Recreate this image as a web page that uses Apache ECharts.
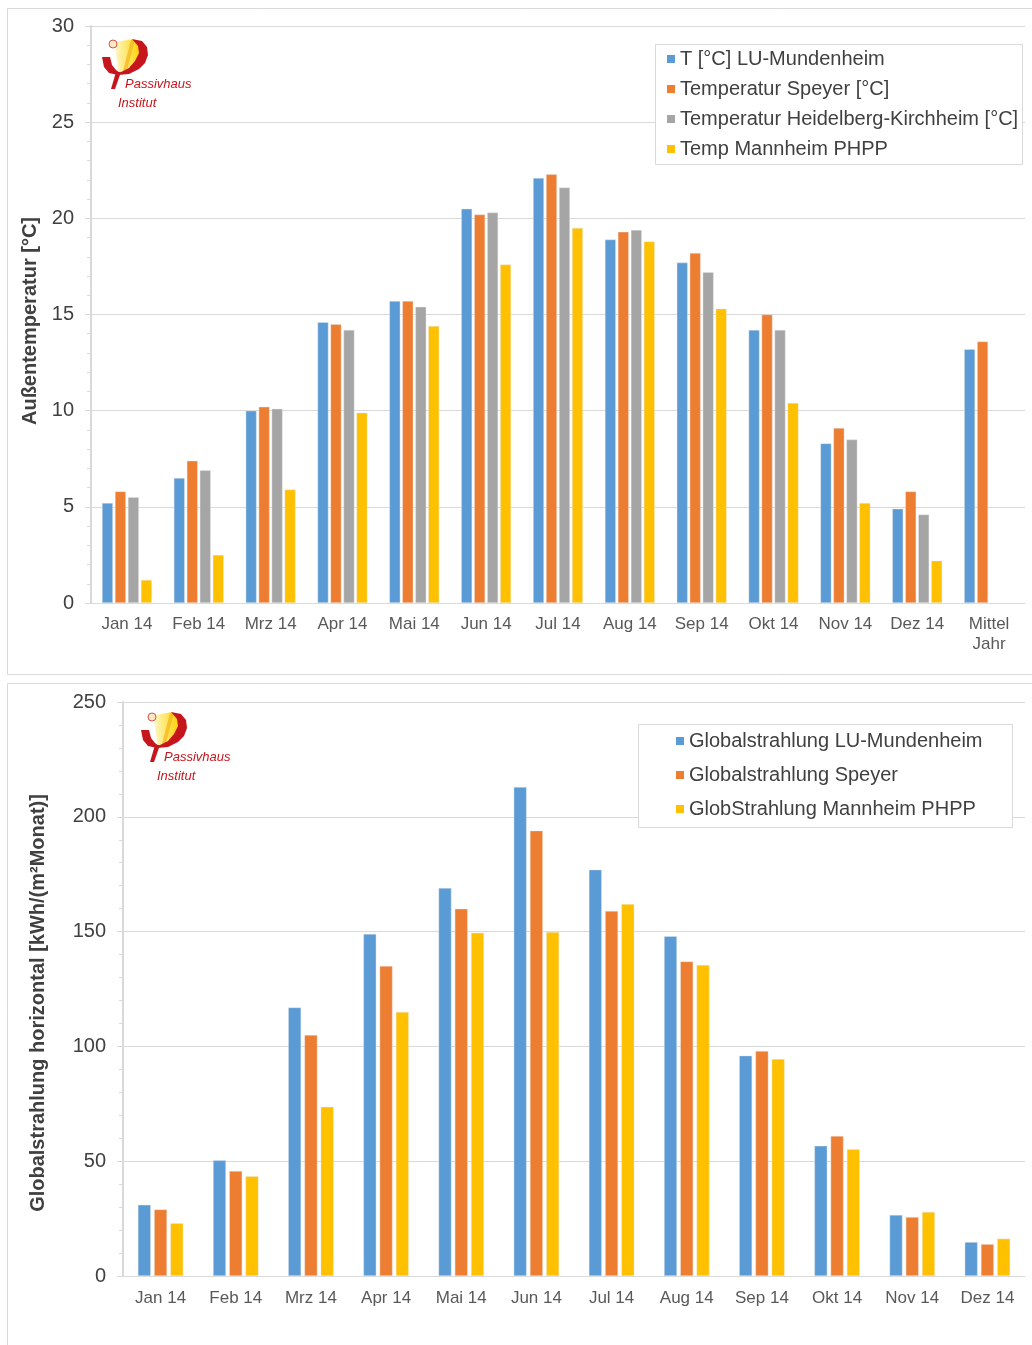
<!DOCTYPE html>
<html>
<head>
<meta charset="utf-8">
<script src="https://cdn.jsdelivr.net/npm/echarts@6/dist/echarts.min.js"></script>
<style>
  html, body { margin: 0; padding: 0; background: #fff; }
  #chart { width: 1032px; height: 1345px; }
</style>
</head>
<body>
<div id="chart"></div>
<script>
// --- data ---
const tempMonths = ['Jan 14', 'Feb 14', 'Mrz 14', 'Apr 14', 'Mai 14', 'Jun 14', 'Jul 14',
  'Aug 14', 'Sep 14', 'Okt 14', 'Nov 14', 'Dez 14', 'Mittel\nJahr'];
const tempLU = [5.2, 6.5, 10.0, 14.6, 15.7, 20.5, 22.1, 18.9, 17.7, 14.2, 8.3, 4.9, 13.2];
const tempSpeyer = [5.8, 7.4, 10.2, 14.5, 15.7, 20.2, 22.3, 19.3, 18.2, 15.0, 9.1, 5.8, 13.6];
const tempHeidelberg = [5.5, 6.9, 10.1, 14.2, 15.4, 20.3, 21.6, 19.4, 17.2, 14.2, 8.5, 4.6, null];
const tempMannheim = [1.2, 2.5, 5.9, 9.9, 14.4, 17.6, 19.5, 18.8, 15.3, 10.4, 5.2, 2.2, null];

const radMonths = ['Jan 14', 'Feb 14', 'Mrz 14', 'Apr 14', 'Mai 14', 'Jun 14', 'Jul 14',
  'Aug 14', 'Sep 14', 'Okt 14', 'Nov 14', 'Dez 14'];
const radLU = [31, 50.4, 117, 149, 169, 213, 177, 148, 96, 56.7, 26.6, 14.8];
const radSpeyer = [29, 45.7, 105, 135, 160, 194, 159, 137, 98, 61, 25.7, 13.9];
const radMannheim = [23, 43.5, 73.7, 115, 149.5, 149.8, 162, 135.5, 94.5, 55.2, 27.9, 16.3];

const tempTicks = { min: 0, max: 30, step: 5 };
const radTicks = { min: 0, max: 250, step: 50 };

const FONT = 'Liberation Sans, Arial, sans-serif';
const GRID_GRAY = '#d9d9d9';
const RED = '#c5161d';

function yAxisOpt(idx, t) {
  return {
    type: 'value',
    gridIndex: idx,
    min: t.min,
    max: t.max,
    interval: t.step,
    axisLine: { show: true, lineStyle: { color: GRID_GRAY, width: 2 } },
    axisTick: { show: true, length: 6, lineStyle: { color: GRID_GRAY } },
    minorTick: { show: true, splitNumber: 5, length: 4, lineStyle: { color: GRID_GRAY } },
    splitLine: { lineStyle: { color: GRID_GRAY } },
    axisLabel: { color: '#404040', fontSize: 20, margin: 17, fontFamily: FONT }
  };
}

function xAxisOpt(idx, cats, margin) {
  return {
    type: 'category',
    gridIndex: idx,
    data: cats,
    axisLine: { lineStyle: { color: GRID_GRAY, width: 1 } },
    axisTick: { show: false },
    axisLabel: { color: '#595959', fontSize: 17, margin: margin, lineHeight: 20, interval: 0, fontFamily: FONT }
  };
}

function bar(name, data, idx, color, w, gap) {
  return {
    name: name,
    type: 'bar',
    xAxisIndex: idx,
    yAxisIndex: idx,
    data: data,
    barWidth: w,
    barGap: gap,
    itemStyle: { color: color, borderColor: 'rgba(230,230,230,0.7)', borderWidth: 0.6 }
  };
}

// Passivhaus Institut logo, local coords relative to the small circle
function logo(x, y) {
  return {
    type: 'group',
    x: x,
    y: y,
    z: 5,
    children: [
      {
        type: 'polygon',
        shape: { points: [[3, -2], [20, -5], [27, 3], [26, 14], [18, 23], [6, 29], [2, 5]] },
        style: {
          fill: {
            type: 'linear', x: 0, y: 0, x2: 1, y2: 0,
            colorStops: [{ offset: 0, color: '#fff8c8' }, { offset: 1, color: '#ffd200' }]
          }
        }
      },
      {
        type: 'polygon',
        shape: { points: [[18, -4], [22, -4], [14, 26], [10, 27]] },
        style: { fill: '#f4b41a', opacity: 0.7 }
      },
      {
        type: 'polygon',
        shape: {
          points: [[19, -5], [29, -3], [34, 3], [35, 11], [32, 19], [26, 25], [16, 30], [5, 31],
            [8, 28], [16, 24], [22, 17], [26, 9], [25, 2]]
        },
        style: { fill: RED }
      },
      {
        type: 'polygon',
        shape: { points: [[-11, 13], [-3, 13], [-1, 21], [3, 26], [7, 29], [5, 31], [-4, 29], [-9, 23]] },
        style: { fill: RED }
      },
      {
        type: 'polygon',
        shape: { points: [[3, 28], [8, 28], [2, 45], [-2, 45]] },
        style: { fill: RED }
      },
      {
        type: 'circle',
        shape: { cx: 0, cy: 0, r: 4 },
        style: { fill: '#fde7c4', stroke: '#d9534f', lineWidth: 1 }
      },
      {
        type: 'text',
        x: 12, y: 40,
        style: {
          text: 'Passivhaus', fill: RED, fontSize: 13, fontStyle: 'italic', fontFamily: FONT,
          align: 'left', verticalAlign: 'middle', textAlign: 'left', textVerticalAlign: 'middle'
        }
      },
      {
        type: 'text',
        x: 5, y: 59,
        style: {
          text: 'Institut', fill: RED, fontSize: 13, fontStyle: 'italic', fontFamily: FONT,
          align: 'left', verticalAlign: 'middle', textAlign: 'left', textVerticalAlign: 'middle'
        }
      }
    ]
  };
}

function axisName(text, x, y) {
  return {
    type: 'text',
    x: x, y: y,
    rotation: Math.PI / 2,
    z: 5,
    style: {
      text: text, fill: '#404040', fontSize: 20, fontWeight: 'bold', fontFamily: FONT,
      align: 'center', verticalAlign: 'middle', textAlign: 'center', textVerticalAlign: 'middle'
    }
  };
}

function frame(x, y, w, h, z, fill) {
  return {
    type: 'rect',
    z: z,
    shape: { x: x, y: y, width: w, height: h },
    style: { fill: fill || 'none', stroke: GRID_GRAY, lineWidth: 1 }
  };
}

function legendOpt(names, left, top, gap) {
  return {
    data: names,
    orient: 'vertical',
    left: left, top: top,
    padding: 0,
    itemWidth: 8, itemHeight: 8, itemGap: gap,
    icon: 'rect',
    itemStyle: { borderWidth: 0 },
    textStyle: { fontSize: 20, color: '#404040', lineHeight: 22, fontFamily: FONT }
  };
}

const chart = echarts.init(document.getElementById('chart'));

const option = {
  animation: false,
  backgroundColor: '#fff',
  textStyle: { fontFamily: FONT },
  grid: [
    { left: 91, right: 7, top: 26, bottom: 742 },
    { left: 123, right: 7, top: 702, bottom: 69 }
  ],
  xAxis: [xAxisOpt(0, tempMonths, 11), xAxisOpt(1, radMonths, 12)],
  yAxis: [yAxisOpt(0, tempTicks), yAxisOpt(1, radTicks)],
  legend: [
    legendOpt(['T [°C] LU-Mundenheim', 'Temperatur Speyer [°C]',
      'Temperatur Heidelberg-Kirchheim [°C]', 'Temp Mannheim PHPP'], 667, 48, 8),
    legendOpt(['Globalstrahlung LU-Mundenheim', 'Globalstrahlung Speyer',
      'GlobStrahlung Mannheim PHPP'], 676, 730, 12)
  ],
  graphic: {
    elements: [
      frame(7.5, 8.5, 1030, 666, 0),
      frame(7.5, 683.5, 1030, 700, 0),
      frame(655.5, 44.5, 367, 120, 3, '#fff'),
      frame(638.5, 724.5, 374, 103, 3, '#fff'),
      axisName('Außentemperatur [°C]', 30, 321),
      axisName('Globalstrahlung horizontal [kWh/(m²Monat)]', 38, 1003),
      logo(113, 44),
      logo(152, 717)
    ]
  },
  series: [
    bar('T [°C] LU-Mundenheim', tempLU, 0, '#5b9bd5', 11, '18%'),
    bar('Temperatur Speyer [°C]', tempSpeyer, 0, '#ed7d31', 11, '18%'),
    bar('Temperatur Heidelberg-Kirchheim [°C]', tempHeidelberg, 0, '#a5a5a5', 11, '18%'),
    bar('Temp Mannheim PHPP', tempMannheim, 0, '#ffc000', 11, '18%'),
    bar('Globalstrahlung LU-Mundenheim', radLU, 1, '#5b9bd5', 13, '25%'),
    bar('Globalstrahlung Speyer', radSpeyer, 1, '#ed7d31', 13, '25%'),
    bar('GlobStrahlung Mannheim PHPP', radMannheim, 1, '#ffc000', 13, '25%')
  ]
};

chart.setOption(option);
</script>
</body>
</html>
